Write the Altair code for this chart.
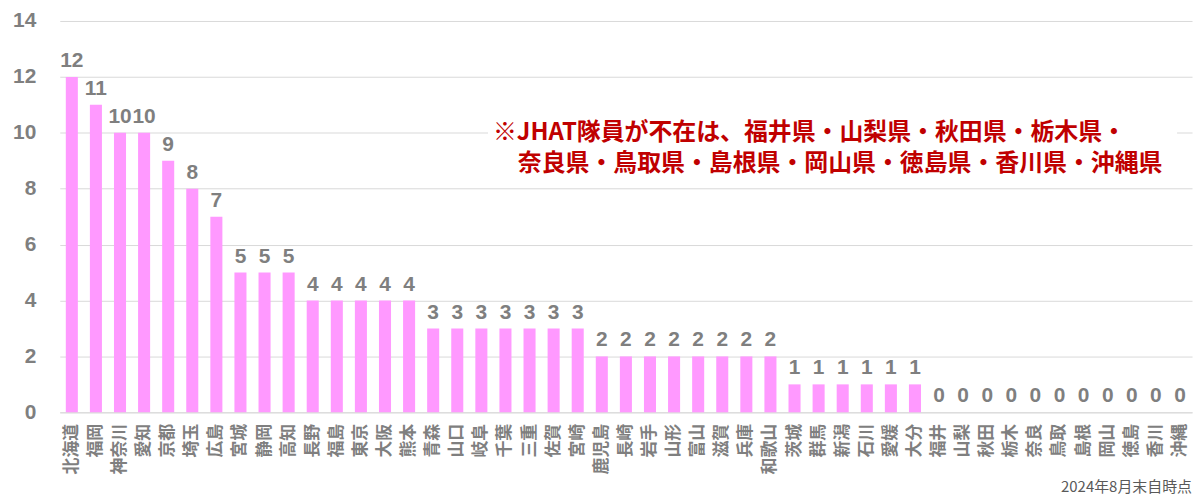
import altair as alt
import pandas as pd

prefs = ["北海道", "福岡", "神奈川", "愛知", "京都", "埼玉", "広島", "宮城", "静岡", "高知",
         "長野", "福島", "東京", "大阪", "熊本", "青森", "山口", "岐阜", "千葉", "三重",
         "佐賀", "宮崎", "鹿児島", "長崎", "岩手", "山形", "富山", "滋賀", "兵庫", "和歌山",
         "茨城", "群馬", "新潟", "石川", "愛媛", "大分", "福井", "山梨", "秋田", "栃木",
         "奈良", "鳥取", "島根", "岡山", "徳島", "香川", "沖縄"]
counts = [12, 11, 10, 10, 9, 8, 7, 5, 5, 5,
          4, 4, 4, 4, 4, 3, 3, 3, 3, 3,
          3, 3, 2, 2, 2, 2, 2, 2, 2, 2,
          1, 1, 1, 1, 1, 1, 0, 0, 0, 0,
          0, 0, 0, 0, 0, 0, 0]
y_ticks = [0, 2, 4, 6, 8, 10, 12, 14]
note_line1 = "※JHAT隊員が不在は、福井県・山梨県・秋田県・栃木県・"
note_line2 = "奈良県・鳥取県・島根県・岡山県・徳島県・香川県・沖縄県"
footnote = "2024年8月末自時点"

df = pd.DataFrame({"pref": prefs, "count": counts})

FONT = "Noto Sans CJK JP"
GRAY = "#7f7f7f"

x_enc = alt.X(
    "pref:N", sort=prefs, title=None,
    scale=alt.Scale(paddingInner=0.5, paddingOuter=0.25),
    axis=alt.Axis(
        labelAngle=-90, labelAlign="right", labelBaseline="middle",
        labelFont=FONT, labelFontSize=17, labelFontWeight="bold", labelColor=GRAY,
        labelPadding=11, labelOverlap=False, labelLimit=0,
        ticks=False, domainColor="#d9d9d9", grid=False,
    ),
)
y_enc = alt.Y(
    "count:Q", title=None,
    scale=alt.Scale(domain=[0, 14], nice=False),
    axis=alt.Axis(
        values=y_ticks, labelFont="Liberation Sans", labelFontSize=21,
        labelFontWeight="bold", labelColor=GRAY, labelPadding=24,
        ticks=False, domain=False, gridColor="#d9d9d9", gridWidth=1,
    ),
)

base = alt.Chart(df)
bars = base.mark_bar(color="#FF99FF").encode(x=x_enc, y=y_enc)
labels = base.mark_text(
    baseline="bottom", dy=-6, font="Liberation Sans", fontSize=21,
    fontWeight="bold", color=GRAY,
).encode(x=alt.X("pref:N", sort=prefs), y="count:Q", text="count:Q")

box = alt.Chart(pd.DataFrame({"a": [0]})).mark_rect(color="white").encode(
    x=alt.value(430), x2=alt.value(1122), y=alt.value(97), y2=alt.value(161)
)
note1 = alt.Chart(pd.DataFrame({"t": [note_line1]})).mark_text(
    align="left", baseline="middle", font=FONT, fontSize=24, fontWeight="bold",
    color="#C00000",
).encode(x=alt.value(435), y=alt.value(113), text="t:N")
note2 = alt.Chart(pd.DataFrame({"t": [note_line2]})).mark_text(
    align="left", baseline="middle", font=FONT, fontSize=24, fontWeight="bold",
    color="#C00000",
).encode(x=alt.value(460), y=alt.value(144), text="t:N")
foot = alt.Chart(pd.DataFrame({"t": [footnote]})).mark_text(
    align="right", baseline="middle", font=FONT, fontSize=15, color="#595959",
).encode(x=alt.value(1137), y=alt.value(468), text="t:N")

chart = alt.layer(bars, labels, box, note1, note2, foot).properties(
    width=1137, height=393,
    autosize=alt.AutoSizeParams(type="none"),
    padding={"left": 52, "top": 12, "right": 2, "bottom": 85},
).configure_view(stroke=None)

chart.save("out.html", embed_options={"renderer": "svg", "actions": False})
